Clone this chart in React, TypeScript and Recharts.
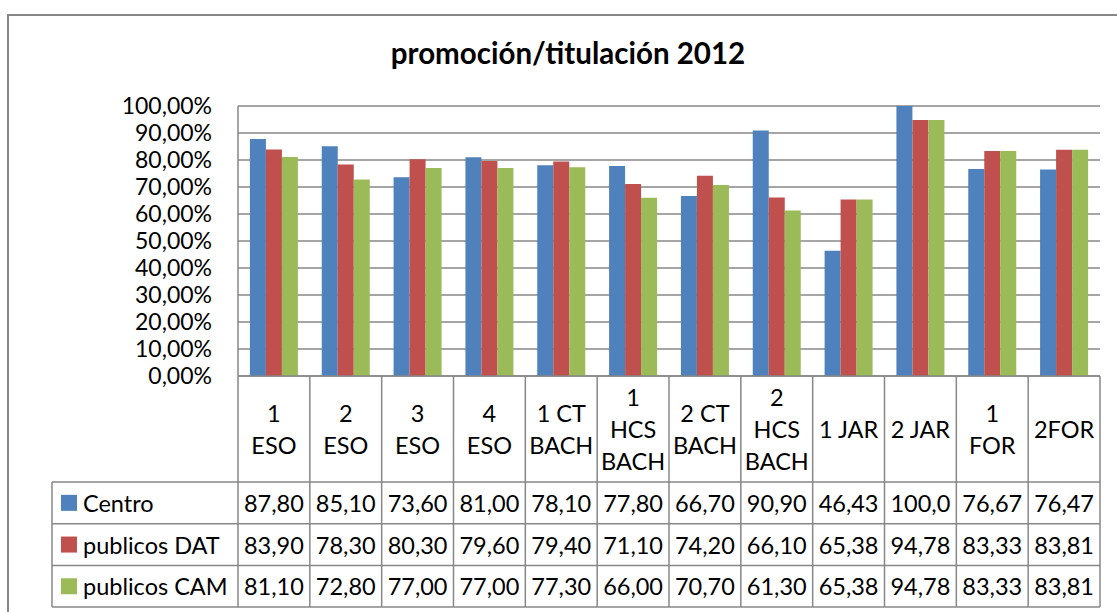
import { BarChart, Bar, XAxis, YAxis, CartesianGrid } from "recharts";

const categories = [
  "1\nESO",
  "2\nESO",
  "3\nESO",
  "4\nESO",
  "1 CT\nBACH",
  "1\nHCS\nBACH",
  "2 CT\nBACH",
  "2\nHCS\nBACH",
  "1 JAR",
  "2 JAR",
  "1\nFOR",
  "2FOR",
];

const centro = [87.8, 85.1, 73.6, 81.0, 78.1, 77.8, 66.7, 90.9, 46.43, 100.0, 76.67, 76.47];
const publicosDat = [83.9, 78.3, 80.3, 79.6, 79.4, 71.1, 74.2, 66.1, 65.38, 94.78, 83.33, 83.81];
const publicosCam = [81.1, 72.8, 77.0, 77.0, 77.3, 66.0, 70.7, 61.3, 65.38, 94.78, 83.33, 83.81];

const seriesNames = ["Centro", "publicos DAT", "publicos CAM"];
const seriesKeys = ["centro", "dat", "cam"];
const seriesColors = ["#4F81BD", "#C0504D", "#9BBB59"];
const seriesValues = [centro, publicosDat, publicosCam];

const yTicks = [0, 10, 20, 30, 40, 50, 60, 70, 80, 90, 100];

const data = categories.map((name, i) => ({
  name,
  centro: centro[i],
  dat: publicosDat[i],
  cam: publicosCam[i],
}));

const FONT = "Lato, 'Open Sans', sans-serif";
const GRID = "#878787";
const HEADER_H = 106;
const ROW_H = 41.7;
const TABLE_LEFT = 52;

const pct = (v: number) => `${v.toFixed(2).replace(".", ",")}%`;
const cell = (v: number) => v.toFixed(2).replace(".", ",").slice(0, 5);

function TableTick(props: any) {
  const { x, y, payload, index, width, visibleTicksCount } = props;
  const count = visibleTicksCount || categories.length;
  const colW = width ? width / count : 71.83;
  const left = x - colW / 2;
  const right = x + colW / 2;
  const bottom = y + HEADER_H + ROW_H * 3;
  const lines = String(payload.value).split("\n");
  const lineH = 32;
  const midY = y + HEADER_H / 2;
  const i = payload.index ?? index;

  return (
    <g fontFamily={FONT} fontSize={23.5} fill="#000">
      <line x1={left} x2={left} y1={y} y2={bottom} stroke={GRID} strokeWidth={1.5} />
      {index === count - 1 && (
        <line x1={right} x2={right} y1={y} y2={bottom} stroke={GRID} strokeWidth={1.5} />
      )}
      {[0, 1, 2, 3].map((r) => (
        <line
          key={r}
          x1={left}
          x2={right}
          y1={y + HEADER_H + ROW_H * r}
          y2={y + HEADER_H + ROW_H * r}
          stroke={GRID}
          strokeWidth={1.5}
        />
      ))}
      {lines.map((t, k) => (
        <text
          key={k}
          x={x}
          y={midY + (k - (lines.length - 1) / 2) * lineH}
          textAnchor="middle"
          dominantBaseline="central"
        >
          {t}
        </text>
      ))}
      {seriesValues.map((vals, r) => (
        <text
          key={r}
          x={x}
          y={y + HEADER_H + ROW_H * (r + 0.5)}
          textAnchor="middle"
          dominantBaseline="central"
        >
          {cell(vals[i])}
        </text>
      ))}
      {index === 0 && (
        <g>
          <line x1={TABLE_LEFT} x2={TABLE_LEFT} y1={y + HEADER_H} y2={bottom} stroke={GRID} strokeWidth={1.5} />
          {[0, 1, 2, 3].map((r) => (
            <line
              key={r}
              x1={TABLE_LEFT}
              x2={left}
              y1={y + HEADER_H + ROW_H * r}
              y2={y + HEADER_H + ROW_H * r}
              stroke={GRID}
              strokeWidth={1.5}
            />
          ))}
          {seriesNames.map((name, r) => {
            const cy = y + HEADER_H + ROW_H * (r + 0.5);
            return (
              <g key={name}>
                <rect x={TABLE_LEFT + 9} y={cy - 8} width={16} height={16} fill={seriesColors[r]} />
                <text x={TABLE_LEFT + 31} y={cy} dominantBaseline="central">
                  {name}
                </text>
              </g>
            );
          })}
        </g>
      )}
    </g>
  );
}

export default function App() {
  return (
    <div
      style={{
        position: "absolute",
        left: 0,
        top: 0,
        width: 1117,
        height: 612,
        overflow: "hidden",
        background: "#fff",
      }}
    >
      <div
        style={{
          position: "absolute",
          left: 7,
          top: 14,
          width: 1200,
          height: 700,
          borderLeft: `2px solid ${GRID}`,
          borderTop: `2px solid ${GRID}`,
        }}
      />
      <div
        style={{
          position: "absolute",
          left: 0,
          width: 1136,
          top: 35,
          textAlign: "center",
          fontFamily: FONT,
          fontWeight: 700,
          fontSize: 29.5,
          lineHeight: "36px",
          color: "#000",
        }}
      >
        promoción/titulación 2012
      </div>
      <div style={{ position: "absolute", left: 0, top: 0 }}>
        <BarChart
          width={1117}
          height={612}
          data={data}
          margin={{ top: 106, right: 17, left: 138, bottom: 5 }}
          barCategoryGap="16.6%"
          barGap={0}
        >
          <CartesianGrid vertical={false} stroke={GRID} strokeWidth={1.5} />
          <XAxis
            dataKey="name"
            height={231}
            interval={0}
            tickLine={false}
            tickSize={0}
            tickMargin={0}
            axisLine={{ stroke: GRID, strokeWidth: 1.5 }}
            tick={<TableTick />}
          />
          <YAxis
            width={100}
            domain={[0, 100]}
            ticks={yTicks}
            interval={0}
            tickFormatter={pct}
            tickLine={false}
            tickSize={0}
            tickMargin={26}
            axisLine={{ stroke: GRID, strokeWidth: 1.5 }}
            tick={{ fill: "#000", fontSize: 23, fontFamily: FONT }}
          />
          {seriesKeys.map((k, s) => (
            <Bar key={k} dataKey={k} fill={seriesColors[s]} isAnimationActive={false} />
          ))}
        </BarChart>
      </div>
    </div>
  );
}
